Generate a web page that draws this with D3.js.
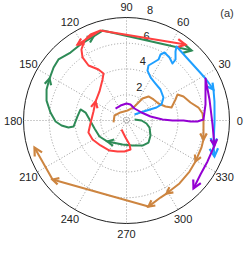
<!DOCTYPE html>
<html><head><meta charset="utf-8">
<script src="https://cdn.jsdelivr.net/npm/d3@7"></script>
<style>body{margin:0;background:#fff}svg{display:block}</style>
</head><body>
<script>
// ---- data (angle in degrees, radius in data units) ----
const angleTicks = [0,30,60,90,120,150,180,210,240,270,300,330];
const radiusTicks = [2,4,6,8];
const panelLabel = "(a)";

const greenTheta = [7,0,351.5,343,328,315,302.6,283.5,260.5,228,210.6,194,178.5,169,166.5,175.3,186.5,186.9,184.4,180.8,174,166,158.8,151.4,144,138.1,129.5,121.2,111.4,104.9,47.1];
const greenR     = [0.63,1.17,1.57,1.87,2.20,2.42,2.31,2.0,1.89,2.20,2.44,2.56,2.87,3.24,3.67,3.82,4.14,4.54,5.06,5.51,5.94,6.4,6.66,6.81,7.0,7.1,6.84,6.9,7.01,7.23,7.42];
const greenArrows = [9,23,28,30];

const redTheta = [240.9,266.6,277.1,277.9,266.3,253.8,240.5,223.9,209.2,197.5,184.8,164.7,148.5,132.95,120.3,116.1,118.8,124.6,124.9,122.4,117.7,112.7,106.1,122.8,106.1,52.2];
const redR     = [0.80,1.32,1.88,2.27,2.41,2.51,2.68,2.80,3.02,3.10,2.81,2.66,2.82,3.08,3.69,4.06,4.52,5.19,5.97,6.53,7.02,7.24,7.28,7.02,7.28,7.47];
const redArrows = [12,23,25];

const orangeTheta = [188.7,157.4,126.9,84.3,61.7,57.1,54,47.5,37.9,28,19.75,16.1,23.2,27,22.8,15.7,10.2,5.3,359.3,346.1,340.2,329.3,321,310.1,298.7,293.8,284.3,218.6,196.4];
const orangeR     = [1.02,1.01,0.78,0.78,1.15,1.57,2.11,2.53,2.66,2.81,3.22,3.64,4.14,4.45,4.8,5.16,5.68,5.93,5.98,6.16,6.19,6.23,6.3,6.39,6.47,6.54,6.9,7.35,7.45];
const orangeArrows = [19,21,24,26,27,28];

const blueTheta = [36.9,27.9,23.4,24.6,31.9,42.4,51.9,60.8,67.2,68.2,65.0,62.3,62.7,60.8,55.7,51.1,51.2,54.6,55.95,28,19.6,12.2,359.3,344.6,337.75];
const blueR     = [0.78,1.49,2.54,2.99,3.38,3.57,3.65,3.83,4.21,4.6,4.97,5.35,5.77,6.05,5.92,5.69,6.08,6.57,6.94,6.95,7.17,6.99,6.84,7.01,7.38];
const blueArrows = [20,23,24];

const purpleTheta = [132.5,111.8,90,76,56.3,28.1,9.5,1.6,0,0,359.1,359.2,0.7,11.45,28,14.2,357.3,344.1,333.2,323.9,314.6];
const purpleR     = [1.26,1.25,1.32,1.28,1.12,1.32,1.89,2.80,3.57,4.43,4.97,5.51,5.98,6.26,6.95,6.65,6.69,7.1,7.05,7.11,7.41];
const purpleArrows = [17,20];

const series = [
  {theta: greenTheta,  r: greenR,  arrows: greenArrows,  color: "#2e8b57"},
  {theta: redTheta,    r: redR,    arrows: redArrows,    color: "#ff4040"},
  {theta: orangeTheta, r: orangeR, arrows: orangeArrows, color: "#cd8540"},
  {theta: blueTheta,   r: blueR,   arrows: blueArrows,   color: "#1e9fff"},
  {theta: purpleTheta, r: purpleR, arrows: purpleArrows, color: "#9400d3"}
];

// ---- layout ----
const W = 246, H = 266, cx = 126.5, cy = 120.5, R = 103;
const rScale = d3.scaleLinear().domain([0, 8]).range([0, R]);
const aScale = d3.scaleLinear().domain([0, 360]).range([Math.PI/2, Math.PI/2 - 2*Math.PI]); // math angle -> d3 radial angle
const toRad = d => d * Math.PI / 180;
const px = (t, r) => [rScale(r) * Math.cos(toRad(t)), -rScale(r) * Math.sin(toRad(t))];

const svg = d3.select("body").append("svg").attr("width", W).attr("height", H);
const g = svg.append("g").attr("transform", `translate(${cx},${cy})`);
const font = "Liberation Sans, Arial, sans-serif";

// grid
const gridColor = "#9a9a9a";
g.selectAll("circle.grid").data([2,4,6]).join("circle")
  .attr("r", d => rScale(d)).attr("fill", "none")
  .attr("stroke", gridColor).attr("stroke-width", 1).attr("stroke-dasharray", "1,2");
g.append("circle").attr("r", 3).attr("fill","none").attr("stroke", gridColor).attr("stroke-width",1).attr("stroke-dasharray","1,1.5");
g.selectAll("line.spoke").data([0,30,60,90,120,150]).join("line")
  .attr("x1", d => px(d, 8)[0]).attr("y1", d => px(d, 8)[1])
  .attr("x2", d => px(d + 180, 8)[0]).attr("y2", d => px(d + 180, 8)[1])
  .attr("stroke", gridColor).attr("stroke-width", 1).attr("stroke-dasharray", "1,2");
g.append("circle").attr("r", rScale(8)).attr("fill", "none").attr("stroke", "#222").attr("stroke-width", 1);

// angle labels
g.selectAll("text.ang").data(angleTicks).join("text")
  .attr("x", d => 1.1 * R * Math.cos(toRad(d)))
  .attr("y", d => -1.1 * R * Math.sin(toRad(d)))
  .attr("text-anchor", "middle").attr("dominant-baseline", "central")
  .attr("font-family", font).attr("font-size", 11).attr("fill", "#222")
  .text(d => d);

// radius labels (at 82 degrees)
g.selectAll("text.rad").data(radiusTicks).join("text")
  .attr("x", d => px(82, d + 0.1)[0] + 6)
  .attr("y", d => px(82, d + 0.1)[1] - 3)
  .attr("font-family", font).attr("font-size", 11).attr("fill", "#222")
  .text(d => d);

svg.append("text").attr("x", 227).attr("y", 17).attr("text-anchor", "middle")
  .attr("font-family", font).attr("font-size", 11).attr("fill", "#333").text(panelLabel);

// trajectories
const line = d3.lineRadial().angle(d => aScale(d[0])).radius(d => rScale(d[1]));
series.forEach(s => {
  const pts = s.theta.map((t, i) => [t, s.r[i]]);
  g.append("path").attr("d", line(pts)).attr("fill", "none")
    .attr("stroke", s.color).attr("stroke-width", 2).attr("stroke-linejoin", "round");
  s.arrows.forEach(i => {
    const tip = px(s.theta[i], s.r[i]);
    const prev = px(s.theta[i-1], s.r[i-1]);
    const a = Math.atan2(tip[1] - prev[1], tip[0] - prev[0]);
    const last = i === s.theta.length - 1;
    const L = last ? 9 : 7, phi = toRad(28);
    const w1 = [tip[0] - L*Math.cos(a - phi), tip[1] - L*Math.sin(a - phi)];
    const w2 = [tip[0] - L*Math.cos(a + phi), tip[1] - L*Math.sin(a + phi)];
    g.append("path").attr("d", `M${w1}L${tip}L${w2}`).attr("fill", "none")
      .attr("stroke", s.color).attr("stroke-width", 2.2).attr("stroke-linejoin", "miter");
  });
});
</script>
</body></html>
